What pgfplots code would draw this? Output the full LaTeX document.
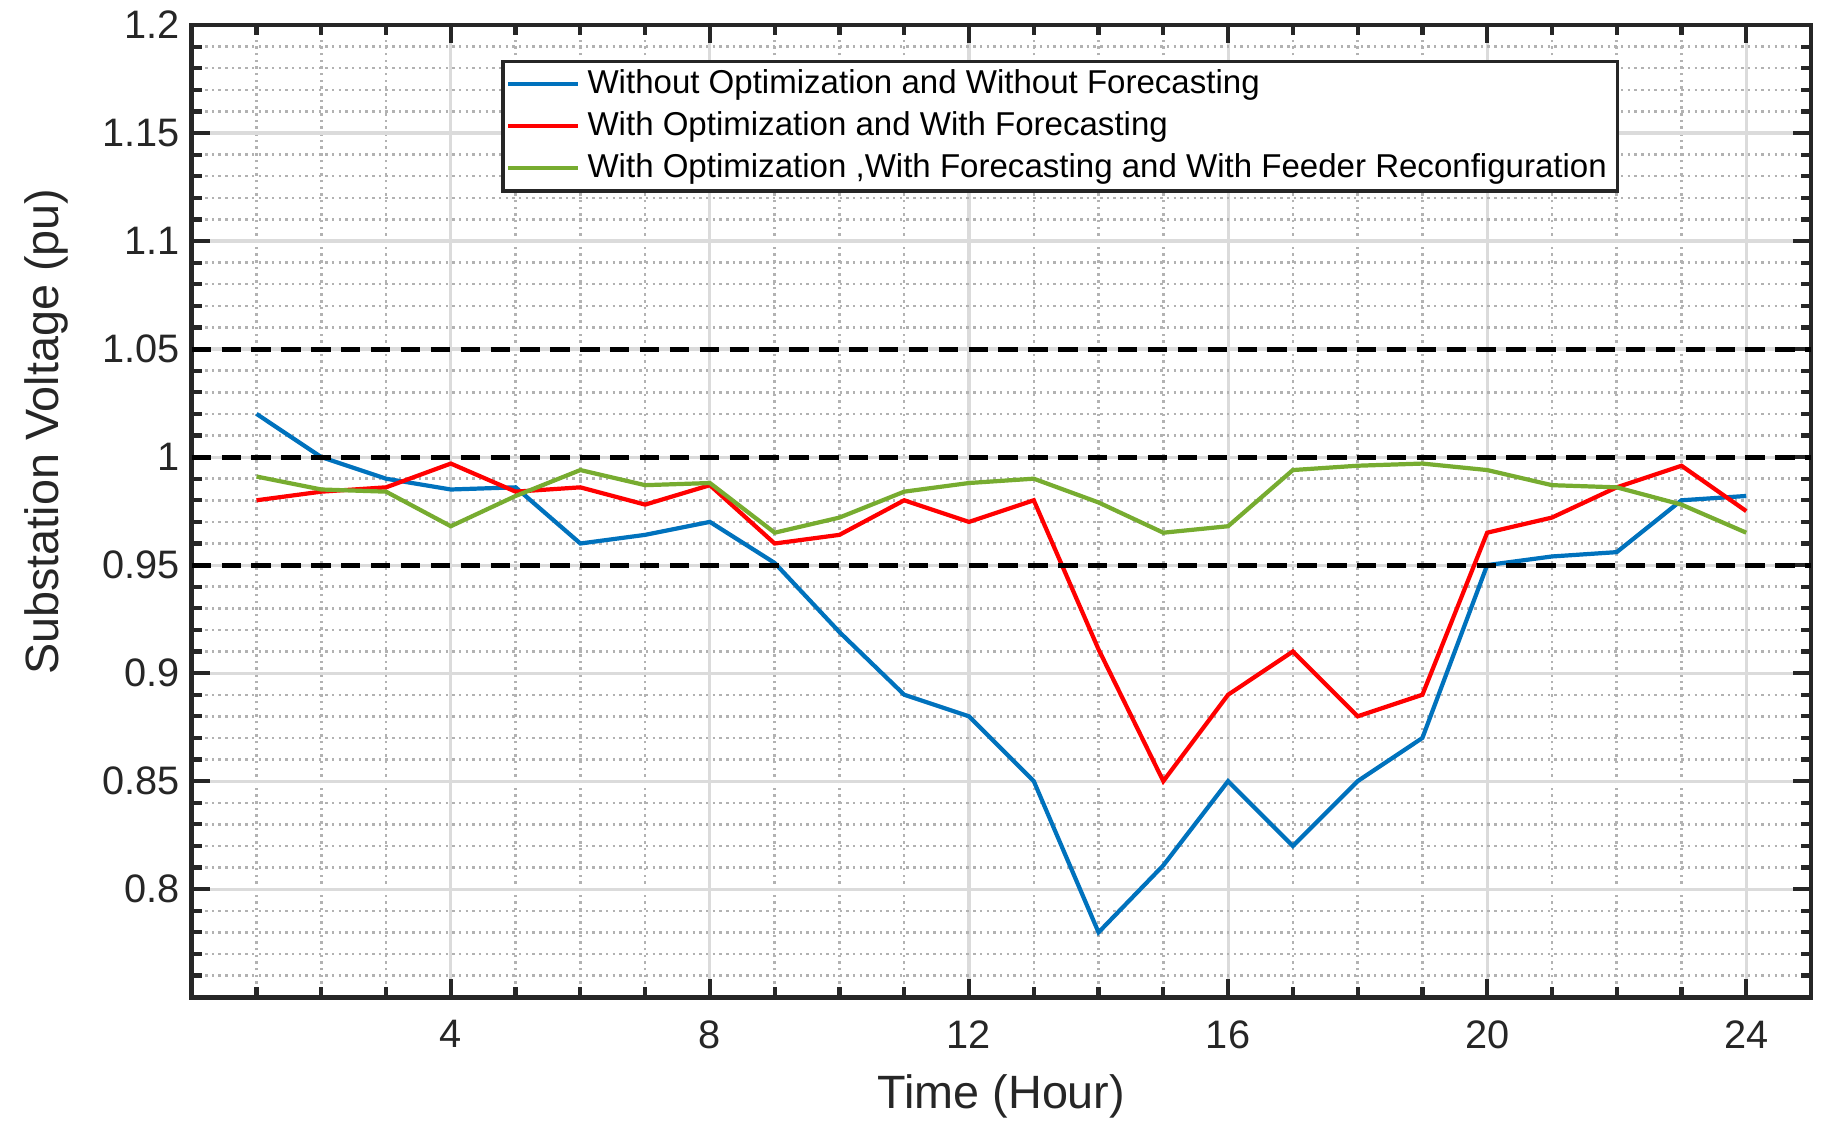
\documentclass[border=0pt]{standalone}
\usepackage{fontspec}
\setmainfont{Liberation Sans}
\usepackage{pgfplots}
\pgfplotsset{compat=1.18}

\definecolor{mblue}{rgb}{0,0.447,0.741}
\definecolor{mgreen}{rgb}{0.466,0.674,0.188}
\definecolor{axgray}{rgb}{0.15,0.15,0.15}

\begin{document}
\begin{tikzpicture}
\begin{axis}[
    name=ax,
    scale only axis,
    width=161.9mm, height=97.2mm,
    xmin=0, xmax=25, ymin=0.75, ymax=1.2,
    xtick={4,8,12,16,20,24},
    ytick={0.8,0.85,0.9,0.95,1,1.05,1.1,1.15,1.2},
    minor xtick={1,2,3,5,6,7,9,10,11,13,14,15,17,18,19,21,22,23},
    minor ytick={0.76,0.77,0.78,0.79,0.81,0.82,0.83,0.84,0.86,0.87,0.88,0.89,
                 0.91,0.92,0.93,0.94,0.96,0.97,0.98,0.99,1.01,1.02,1.03,1.04,
                 1.06,1.07,1.08,1.09,1.11,1.12,1.13,1.14,1.16,1.17,1.18,1.19},
    grid=both,
    major grid style={black!14, line width=0.9pt},
    minor grid style={black!30, line width=0.7pt, dash pattern=on 0.7pt off 1.2pt},
    axis line style={axgray, line width=1.4pt},
    major tick length=5.1pt, minor tick length=2.8pt,
    major tick style={axgray, line width=1.2pt},
    minor tick style={axgray, line width=1.2pt},
    tick label style={font=\fontsize{11.3}{13}\selectfont, text=axgray},
    xticklabel style={yshift=-1.1mm},
    /pgf/number format/assume math mode=true,
    label style={font=\fontsize{13.3}{15}\selectfont, text=axgray},
    xlabel={Time (Hour)},
    ylabel={Substation Voltage (pu)},
    xlabel style={at={(axis description cs:0.5,-0.102)}, anchor=center},
    ylabel style={at={(axis description cs:-0.0896,0.5816)}, anchor=center},
    legend style={at={(axis description cs:0.191,0.9645)}, anchor=north west,
        draw=axgray, line width=1pt, fill=white,
        font=\fontsize{9.4}{11}\selectfont, text=black,
        inner xsep=1pt, inner ysep=0.4pt, row sep=-0.4pt},
    legend cell align=left,
    legend image code/.code={\draw[#1, line width=1.2pt] (0mm,0mm) -- (7mm,0mm);},
  ]
  % without optimization, without forecasting
  \addplot[mblue, line width=1.2pt] coordinates {
    (1,1.020) (2,1.000) (3,0.990) (4,0.985) (5,0.986) (6,0.960) (7,0.964) (8,0.970)
    (9,0.951) (10,0.919) (11,0.890) (12,0.880) (13,0.850) (14,0.780) (15,0.811) (16,0.850)
    (17,0.820) (18,0.850) (19,0.870) (20,0.950) (21,0.954) (22,0.956) (23,0.980) (24,0.982)};
  % with optimization and forecasting
  \addplot[red, line width=1.2pt] coordinates {
    (1,0.980) (2,0.984) (3,0.986) (4,0.997) (5,0.984) (6,0.986) (7,0.978) (8,0.987)
    (9,0.960) (10,0.964) (11,0.980) (12,0.970) (13,0.980) (14,0.911) (15,0.850) (16,0.890)
    (17,0.910) (18,0.880) (19,0.890) (20,0.965) (21,0.972) (22,0.986) (23,0.996) (24,0.975)};
  % plus feeder reconfiguration
  \addplot[mgreen, line width=1.2pt] coordinates {
    (1,0.991) (2,0.985) (3,0.984) (4,0.968) (5,0.982) (6,0.994) (7,0.987) (8,0.988)
    (9,0.965) (10,0.972) (11,0.984) (12,0.988) (13,0.990) (14,0.979) (15,0.965) (16,0.968)
    (17,0.994) (18,0.996) (19,0.997) (20,0.994) (21,0.987) (22,0.986) (23,0.978) (24,0.965)};
  % voltage limits
  \addplot[forget plot, black, line width=1.4pt, dash pattern=on 5.5pt off 3pt] coordinates {(0,1.05) (25,1.05)};
  \addplot[forget plot, black, line width=1.4pt, dash pattern=on 5.5pt off 3pt] coordinates {(0,1) (25,1)};
  \addplot[forget plot, black, line width=1.4pt, dash pattern=on 5.5pt off 3pt] coordinates {(0,0.95) (25,0.95)};
  \legend{Without Optimization and Without Forecasting,
          With Optimization and With Forecasting,
          {With Optimization ,With Forecasting and With Feeder Reconfiguration}}
\end{axis}
\pgfresetboundingbox
\path[use as bounding box] ([xshift=-19.17mm,yshift=-12.93mm]ax.south west)
    rectangle ([xshift=1.1mm,yshift=2.5mm]ax.north east);
\end{tikzpicture}
\end{document}
